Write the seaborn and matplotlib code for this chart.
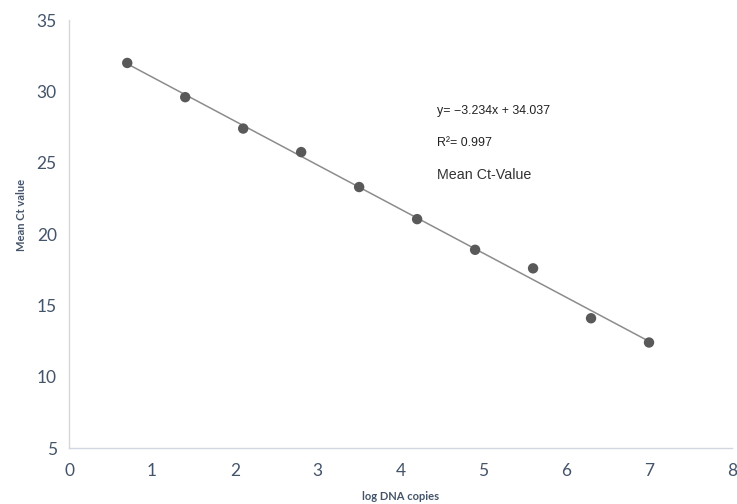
import matplotlib
matplotlib.use("Agg")
import matplotlib.pyplot as plt
import seaborn as sns
import pandas as pd

log_copies = [0.7, 1.4, 2.1, 2.8, 3.5, 4.2, 4.9, 5.6, 6.3, 7.0]
mean_ct = [32.0, 29.6, 27.4, 25.75, 23.3, 21.05, 18.9, 17.6, 14.1, 12.4]
x_ticks = [0, 1, 2, 3, 4, 5, 6, 7, 8]
y_ticks = [5, 10, 15, 20, 25, 30, 35]
eq_text = "y= \u22123.234x + 34.037"
r2_text = "R\u00b2= 0.997"
series_name = "Mean Ct-Value"

df = pd.DataFrame({"log DNA copies": log_copies, "Mean Ct value": mean_ct})

sns.set_theme(style="white")
plt.rcParams["font.family"] = ["Lato", "DejaVu Sans"]

fig = plt.figure(figsize=(7.37, 5.04), dpi=100)
ax = fig.add_axes([0.094, 0.111, 0.899, 0.849])

sns.regplot(data=df, x="log DNA copies", y="Mean Ct value", ax=ax, ci=None,
            scatter_kws=dict(s=56, color="#595959", edgecolor="none", alpha=1, zorder=3),
            line_kws=dict(color="#8c8c8c", lw=1.1, zorder=2))

ax.set_xlim(0, 8)
ax.set_ylim(5, 35)
ax.set_xticks(x_ticks)
ax.set_yticks(y_ticks)
tick_color = "#44546A"
ax.tick_params(axis="both", length=0, labelsize=12.5, colors=tick_color)
ax.tick_params(axis="x", pad=11)
ax.tick_params(axis="y", pad=9)

for side in ["top", "right"]:
    ax.spines[side].set_visible(False)
for side in ["left", "bottom"]:
    ax.spines[side].set_color("#D0D7E0")
    ax.spines[side].set_linewidth(1.0)

ax.set_xlabel("log DNA copies", fontsize=8, fontweight="bold", color=tick_color)
ax.set_ylabel("Mean Ct value", fontsize=8, fontweight="bold", color=tick_color)
ax.xaxis.set_label_coords(0.5, -0.101)
ax.yaxis.set_label_coords(-0.064, 0.545)

txt_font = ["Liberation Sans", "DejaVu Sans"]
ax.text(4.44, 28.65, eq_text, fontsize=8.9, family=txt_font, color="#222222", va="center", ha="left")
ax.text(4.44, 26.4, r2_text, fontsize=8.9, family=txt_font, color="#222222", va="center", ha="left")
ax.text(4.44, 24.15, series_name, fontsize=10.3, family=txt_font, color="#333333", va="center", ha="left")

fig.savefig("out.png", dpi=100)
